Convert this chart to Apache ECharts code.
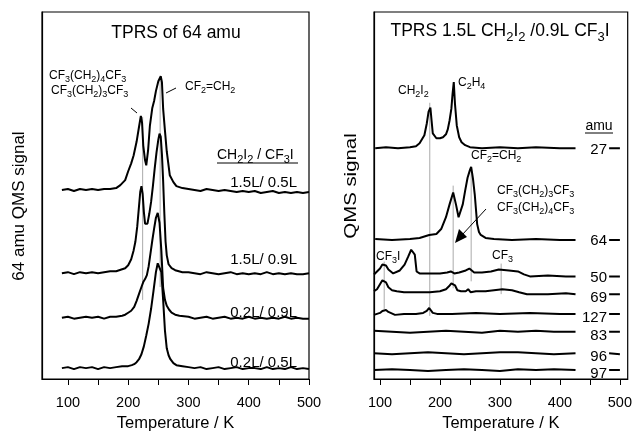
<!DOCTYPE html>
<html>
<head>
<meta charset="utf-8">
<script src="https://cdn.jsdelivr.net/npm/echarts@6/dist/echarts.min.js"></script>
<style>
  html, body { margin: 0; padding: 0; background: #fff; }
  #chart { width: 635px; height: 437px; }
</style>
</head>
<body>
<div id="chart"></div>
<script>
// ---------- Left panel: 64 amu TPRS for four CH2I2 / CF3I dose pairs ----------
const doseLabels = ['0.2L/ 0.5L', '0.2L/ 0.9L', '1.5L/ 0.9L', '1.5L/ 0.5L'];
const doseOffsets = [11, 62, 107, 191];

const tA = [90,100,110,120,130,140,150,160,170,180,190,200,206,210,214,218,222,226,230,234,238,242,246,249,252,255,258,261,264,267,270,275,280,290,300,310,320,330,340,350,360,370,380,390,400,410,420,430,440,450,460,470,480,490,500];
const sA = [0,1,-1,1,0,1,-1,1,0,1,2,2,3,4,6,9,14,22,33,45,60,78,97,106,107,97,69,38,20,13,9,5,3,2,1,0,1,-1,0,1,-1,0,1,-1,0,0,-1,1,-1,0,-1,1,-1,0,-1];

const tB = [90,100,110,120,130,140,150,160,170,180,190,195,200,205,210,214,218,222,225,228,231,234,237,240,243,246,249,252,255,258,261,264,268,272,278,285,300,310,320,330,340,350,360,370,380,390,400,410,420,430,440,450,460,470,480,490,500];
const sB = [0,1,-1,0,1,0,1,-1,1,1,2,3,5,7,11,17,24,31,36,39,43,52,65,78,90,101,106,96,68,30,18,12,8,5,3,2,1,-1,0,1,-1,0,1,-1,0,-1,1,-1,0,-1,0,-1,1,-1,0,-1,-1];

const tC = [90,100,110,120,130,140,150,160,170,180,190,195,200,205,209,212,215,218,220,222,224,226,228,230,232,235,238,241,244,247,250,252,254,256,258,260,262,264,267,272,278,290,300,310,320,330,340,350,360,370,380,390,400,410,420,430,440,450,460,470,480,490,500];
const sC = [0,1,-1,1,0,1,0,1,2,2,4,5,8,14,23,32,47,68,82,88,80,62,50,48,50,60,72,88,106,122,135,141,138,120,93,60,32,18,9,5,3,1,1,0,-1,1,0,-1,0,1,-1,0,-1,0,-1,1,-1,0,-1,0,-1,-1,0];

const tD = [90,100,110,120,130,140,150,160,170,180,187,195,200,205,209,214,218,221,223,225,228,230,233,236,240,243,246,250,254,256,258,261,264,269,275,280,290,300,310,320,330,340,350,360,370,380,390,400,410,420,430,440,450,460,470,480,490,500];
const sD = [0,1,-1,1,0,1,0,1,1,2,5,10,19,27,35,49,64,75,68,45,30,25,40,65,83,90,100,110,115,109,82,60,39,15,8,4,2,1,0,-1,1,0,-1,0,-1,-2,-1,-2,-1,-3,-2,-1,-3,-2,-3,-2,-3,-2];

const leftTraceT = [tA, tB, tC, tD];
const leftTraceS = [sA, sB, sC, sD];

// thin guide lines through the peak maxima (temperature, top, bottom)
const leftGuideT = [224, 253];
const leftGuideTop = [265, 303];
const leftGuideBottom = [80, 93];

// ---------- Right panel: 1.5L CH2I2 / 0.9L CF3I, several masses ----------
const massLabels = ['27', '64', '50', '69', '127', '83', '96', '97'];
const massOffsets = [234, 141, 104, 86, 66, 48, 26, 9];

// null marks the gap before the short segment at 482-500 K
const t27 = [92,110,130,150,160,166,174,178,181,184,186,188,194,200,205,210,213,216,219,221,223,225,228,232,236,242,250,270,300,330,360,400,426,454,482,500];
const s27 = [0,1,0,1,2,5,13,25,37,41,28,15,10,10,11,14,19,28,40,55,67,45,23,11,6,3,1,0,1,0,1,0,0,null,0,0];

const t64 = [92,120,150,166,182,194,202,210,216,222,227,231,238,242,246,250,252,255,258,262,265,268,276,290,320,360,400,426,454,482,500];
const s64 = [1,0,1,2,5,6,11,23,36,48,35,23,36,50,63,71,74,62,46,16,8,5,2,1,0,1,0,0,null,0,0];

const t50 = [90,95,100,104,107,110,114,122,133,141,147,152,155,158,161,166,180,200,212,218,224,232,243,249,257,270,285,298,315,330,340,350,380,410,426,454,482,500];
const s50 = [2,5,8,12,13,11,7,3,6,12,20,27,29,22,5,3,3,3,4,5,3,4,6,8,4,4,5,7,6,5,2,0,1,0,0,null,0,0];

const t69 = [90,95,100,104,107,110,114,120,128,140,150,170,183,200,210,215,219,222,225,229,235,243,247,251,260,276,290,304,320,332,345,380,410,426,454,482,500];
const s69 = [3,5,10,14,16,12,7,4,3,2,2,2,2,3,5,8,11,13,9,4,3,3,5,2,3,3,4,5,4,2,0,0,1,0,null,0,0];

const t127 = [90,100,104,107,110,114,125,140,160,172,178,182,185,188,195,220,260,300,350,400,426,454,482,500];
const s127 = [-1,1,3,5,4,2,-1,0,0,1,3,6,4,1,0,0,1,0,1,0,0,null,0,0];

const t83 = [90,120,150,180,210,240,270,300,330,360,390,426,454,482,500];
const s83 = [1,0,-1,0,1,0,-1,1,0,1,0,0,null,0,0];

const t96 = [90,120,150,180,210,240,270,300,330,360,390,426,454,482,500];
const s96 = [0,-1,0,1,0,-1,0,1,1,0,-1,0,null,0,-1];

const t97 = [90,120,150,180,210,240,270,300,330,360,390,426,454,482,500];
const s97 = [0,1,0,-1,0,1,0,-1,1,0,1,0,null,0,0];

const rightTraceT = [t27, t64, t50, t69, t127, t83, t96, t97];
const rightTraceS = [s27, s64, s50, s69, s127, s83, s96, s97];

const rightGuideT = [107, 183, 222, 252, 302];
const rightGuideTop = [119, 280, 196, 214, 117];
const rightGuideBottom = [71, 64, 92, 99, 86];

// axis ticks
const tickValues = [100, 150, 200, 250, 300, 350, 400, 450, 500];
const tickLabels = [100, 200, 300, 400, 500];

// ---------- helpers ----------
const FONT = 'Liberation Sans, Arial, Helvetica, sans-serif';

// "CF_3I" -> rich markup with subscript digits
function chem(str) {
  const parts = str.split(/_(\d)/);
  let out = '';
  parts.forEach((p, i) => {
    if (p === '') return;
    out += (i % 2 === 1) ? '{s|' + p + '}' : '{n|' + p + '}';
  });
  return out;
}
function richFor(size) {
  return {
    n: { fontSize: size, fontFamily: FONT, fill: '#000', verticalAlign: 'bottom', padding: [0, 0, Math.round(size * 0.22), 0] },
    s: { fontSize: Math.round(size * 0.75), fontFamily: FONT, fill: '#000', verticalAlign: 'bottom' }
  };
}
function label(text, x, y, size, align) {
  return {
    type: 'text', x: x, y: y, z: 10,
    style: {
      text: chem(text), rich: richFor(size), fill: '#000',
      fontSize: size, fontFamily: FONT,
      align: align || 'left', verticalAlign: 'middle'
    }
  };
}
function plain(text, x, y, size, align, rotation, stretch) {
  return {
    type: 'text', x: x, y: y, z: 10, rotation: rotation || 0, scaleX: stretch || 1,
    style: { text: text, fill: '#000', fontSize: size, fontFamily: FONT,
             align: align || 'left', verticalAlign: 'middle' }
  };
}
function seg(x1, y1, x2, y2, color, w) {
  return { type: 'line', z: 10, shape: { x1, y1, x2, y2 },
           style: { stroke: color || '#000', lineWidth: w || 1 } };
}

function traceData(T, S, off) {
  return T.map((t, i) => [t, S[i] === null ? null : off + S[i]]);
}

// ---------- series ----------
const series = [];
const traceStyle = { color: '#000', width: 2 };
const guideStyle = { color: '#aaa', width: 1 };

leftGuideT.forEach((t, i) => {
  series.push({ type: 'line', xAxisIndex: 0, yAxisIndex: 0, z: 1, symbol: 'none',
    lineStyle: guideStyle, silent: true,
    data: [[t, leftGuideBottom[i]], [t, leftGuideTop[i]]] });
});
leftTraceT.forEach((T, i) => {
  series.push({ type: 'line', name: doseLabels[i], xAxisIndex: 0, yAxisIndex: 0, z: 2,
    symbol: 'none', lineStyle: traceStyle, data: traceData(T, leftTraceS[i], doseOffsets[i]) });
});
rightGuideT.forEach((t, i) => {
  series.push({ type: 'line', xAxisIndex: 1, yAxisIndex: 1, z: 1, symbol: 'none',
    lineStyle: guideStyle, silent: true,
    data: [[t, rightGuideBottom[i]], [t, rightGuideTop[i]]] });
});
rightTraceT.forEach((T, i) => {
  series.push({ type: 'line', name: massLabels[i] + ' amu', xAxisIndex: 1, yAxisIndex: 1, z: 2,
    symbol: 'none', connectNulls: false, lineStyle: traceStyle,
    data: traceData(T, rightTraceS[i], massOffsets[i]) });
});

function xAxisCfg(grid, min, max) {
  return {
    type: 'value', gridIndex: grid, min: min, max: max,
    axisLine: { show: true, onZero: false, lineStyle: { color: '#000', width: 1.2 } },
    axisTick: { show: true, customValues: tickValues, length: 6, inside: false,
                lineStyle: { color: '#000', width: 1 } },
    axisLabel: { customValues: tickLabels, fontSize: 14.5, fontFamily: FONT, color: '#000', margin: 16 },
    splitLine: { show: false },
    name: 'Temperature / K', nameLocation: 'middle', nameGap: 36,
    nameTextStyle: { fontSize: 16.5, fontFamily: FONT, color: '#000' }
  };
}
function yAxisCfg(grid, max) {
  return {
    type: 'value', gridIndex: grid, min: 0, max: max,
    axisLine: { show: true, lineStyle: { color: '#000', width: 1.2 } },
    axisTick: { show: false }, axisLabel: { show: false }, splitLine: { show: false }
  };
}

const graphics = [
  // titles
  plain('TPRS of 64 amu', 176, 33, 17.5, 'center'),
  label('TPRS 1.5L CH_2I_2 /0.9L CF_3I', 500, 33, 17.5, 'center'),
  // axis titles
  plain('64 amu QMS signal', 19, 206, 17, 'center', Math.PI / 2),
  plain('QMS signal', 351, 186, 17, 'center', Math.PI / 2, 1.2),
  // left panel annotations
  label('CF_3(CH_2)_4CF_3', 49, 77, 12),
  label('CF_3(CH_2)_3CF_3', 51, 92, 12),
  seg(131, 108, 137, 113),
  label('CF_2=CH_2', 185, 88, 12),
  seg(166, 93, 176, 88),
  label('CH_2I_2 / CF_3I', 217, 157, 14),
  seg(217, 163, 298, 163),
  // right panel annotations
  label('CH_2I_2', 398, 92, 12),
  label('C_2H_4', 458, 84, 12),
  label('CF_2=CH_2', 471, 157, 12),
  label('CF_3(CH_2)_3CF_3', 497, 192, 12),
  label('CF_3(CH_2)_4CF_3', 497, 209, 12),
  seg(486, 209, 462, 235),
  { type: 'polygon', z: 10, shape: { points: [[455, 243], [467, 237], [459, 229]] }, style: { fill: '#000' } },
  label('CF_3I', 376, 258, 12),
  label('CF_3', 492, 257, 12),
  plain('amu', 599, 126, 14, 'center'),
  seg(585, 133, 613, 133)
];
// dose labels next to left traces
const doseLabelY = [363, 313, 260, 183];
doseLabels.forEach((d, i) => graphics.push(plain(d, 297, doseLabelY[i], 15, 'right')));
// mass labels next to right traces
const massLabelY = [150, 241, 278, 298, 318, 336, 357, 374];
massLabels.forEach((m, i) => graphics.push(plain(m, 607, massLabelY[i], 15, 'right')));

const chart = echarts.init(document.getElementById('chart'), null, { renderer: 'canvas' });
chart.setOption({
  animation: false,
  backgroundColor: '#fff',
  grid: [
    { left: 42, top: 12, right: 326, bottom: 54, show: true, borderColor: '#000', borderWidth: 1.2 },
    { left: 374, top: 12, right: 5, bottom: 53, show: true, borderColor: '#000', borderWidth: 1.2 }
  ],
  xAxis: [xAxisCfg(0, 57, 500), xAxisCfg(1, 90, 513)],
  yAxis: [yAxisCfg(0, 371), yAxisCfg(1, 372)],
  series: series,
  graphic: graphics
});
</script>
</body>
</html>
